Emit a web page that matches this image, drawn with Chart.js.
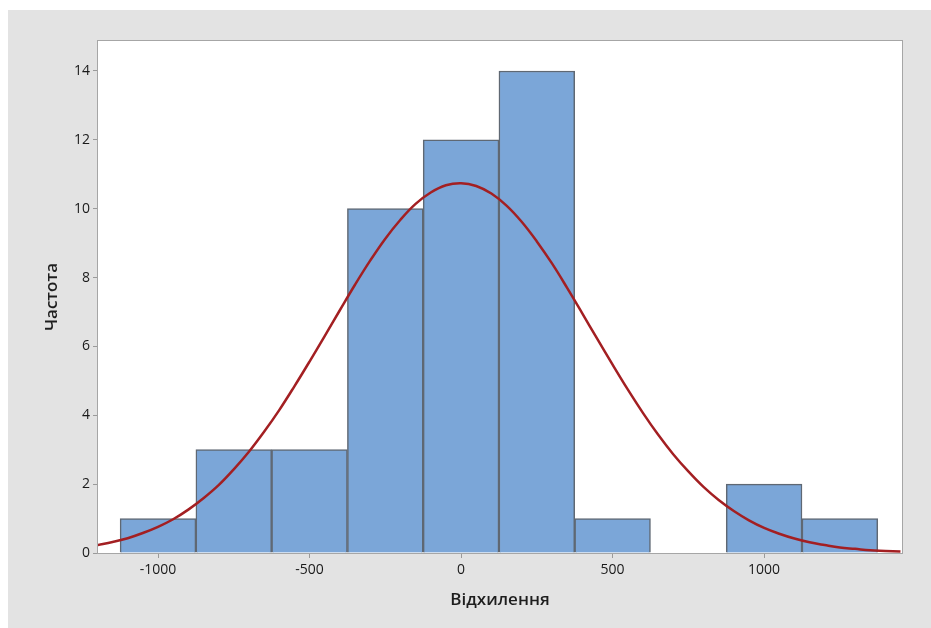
<!DOCTYPE html>
<html>
<head>
<meta charset="utf-8">
<script src="https://cdn.jsdelivr.net/npm/chart.js@4.4.1/dist/chart.umd.min.js"></script>
<style>
    html, body { margin: 0; padding: 0; background: #ffffff; }
    #wrap { width: 931px; height: 628px; }
</style>
</head>
<body>
<div id="wrap"><canvas id="hist-chart" width="931" height="628"></canvas></div>
<script>
// Гістограма: центри інтервалів та частоти
const binCenters = [-1000, -750, -500, -250, 0, 250, 500, 750, 1000, 1250];
const frequencies = [1, 3, 3, 10, 12, 14, 1, 0, 2, 1];

// Крива нормального розподілу (значення зчитані з рисунку)
const curveX = [-1200, -1150, -1100, -1050, -1000, -950, -900, -850, -800, -750, -700, -650, -600, -550,
    -500, -450, -400, -350, -300, -250, -200, -150, -100, -50, 0, 50, 100, 150, 200, 250, 300, 350, 400,
    450, 500, 550, 600, 650, 700, 750, 800, 850, 900, 950, 1000, 1050, 1100, 1150, 1200, 1250, 1300,
    1350, 1400, 1450];
const curveY = [0.23, 0.32, 0.43, 0.58, 0.76, 0.98, 1.26, 1.59, 1.97, 2.43, 2.94, 3.52, 4.15, 4.84,
    5.56, 6.30, 7.05, 7.79, 8.49, 9.13, 9.68, 10.14, 10.47, 10.68, 10.74, 10.66, 10.44, 10.09, 9.62,
    9.05, 8.41, 7.70, 6.96, 6.21, 5.47, 4.75, 4.07, 3.44, 2.87, 2.37, 1.92, 1.54, 1.22, 0.95, 0.73,
    0.56, 0.42, 0.31, 0.23, 0.16, 0.12, 0.08, 0.06, 0.04];

const xTicks = [-1000, -500, 0, 500, 1000];
const yTicks = [0, 2, 4, 6, 8, 10, 12, 14];

const FONT = "'Open Sans', 'Noto Sans', sans-serif";

// Сірий фон та біла область побудови з рамкою
const backdrop = {
    id: 'backdrop',
    beforeDraw(chart) {
        const {ctx, chartArea: a} = chart;
        ctx.save();
        ctx.fillStyle = '#ffffff';
        ctx.fillRect(0, 0, chart.width, chart.height);
        ctx.fillStyle = '#e3e3e3';
        ctx.fillRect(8, 10, chart.width - 8, chart.height - 10);
        ctx.fillStyle = '#ffffff';
        ctx.fillRect(a.left, a.top, a.right - a.left, a.bottom - a.top);
        ctx.restore();
    },
    afterDraw(chart) {
        const {ctx, chartArea: a} = chart;
        ctx.save();
        ctx.strokeStyle = '#a6a6a6';
        ctx.lineWidth = 1;
        ctx.strokeRect(a.left - 0.5, a.top - 0.5, a.right - a.left + 1, a.bottom - a.top + 1);
        ctx.restore();
    }
};

const config = {
    type: 'bar',
    data: {
        datasets: [
            {
                type: 'line',
                label: 'Нормальний',
                data: curveX.map((x, i) => ({x: x, y: curveY[i]})),
                borderColor: '#a31f22',
                borderWidth: 2.5,
                pointRadius: 0,
                tension: 0.4,
                fill: false,
                order: 0
            },
            {
                label: 'Частота',
                data: binCenters.map((x, i) => ({x: x, y: frequencies[i]})),
                backgroundColor: '#7ba6d8',
                borderColor: '#5f6873',
                borderWidth: 1.5,
                borderSkipped: 'bottom',
                barPercentage: 1,
                categoryPercentage: 1,
                order: 1
            }
        ]
    },
    options: {
        responsive: false,
        animation: false,
        layout: {padding: {top: 41, right: 29, left: 0, bottom: 0}},
        plugins: {
            legend: {display: false},
            tooltip: {enabled: false}
        },
        scales: {
            x: {
                type: 'linear',
                min: -1198,
                max: 1455,
                offset: false,
                afterBuildTicks: (scale) => { scale.ticks = xTicks.map(v => ({value: v})); },
                afterFit: (scale) => { scale.height = 75; },
                grid: {offset: false, drawOnChartArea: false, drawTicks: true, tickLength: 5, color: '#9a9a9a'},
                border: {display: false},
                ticks: {
                    font: {family: FONT, size: 14},
                    color: '#1a1a1a',
                    padding: 4,
                    maxRotation: 0,
                    callback: (v) => String(v)
                },
                title: {
                    display: true,
                    text: 'Відхилення',
                    font: {family: FONT, size: 17, weight: '600', lineHeight: 1.2},
                    color: '#1e1e1e',
                    padding: {top: 0, bottom: 18}
                }
            },
            y: {
                min: 0,
                max: 14.87,
                afterBuildTicks: (scale) => { scale.ticks = yTicks.map(v => ({value: v})); },
                afterFit: (scale) => { scale.width = 98; },
                grid: {drawOnChartArea: false, drawTicks: true, tickLength: 5, color: '#9a9a9a'},
                border: {display: false},
                ticks: {
                    font: {family: FONT, size: 14},
                    color: '#1a1a1a',
                    padding: 3,
                    callback: (v) => String(v)
                },
                title: {
                    display: true,
                    text: 'Частота',
                    font: {family: FONT, size: 17, weight: '600', lineHeight: 1.2},
                    color: '#1e1e1e',
                    padding: {top: 42, bottom: 0}
                }
            }
        }
    },
    plugins: [backdrop]
};

const ctx = document.getElementById('hist-chart').getContext('2d');
new Chart(ctx, config);
</script>
</body>
</html>
